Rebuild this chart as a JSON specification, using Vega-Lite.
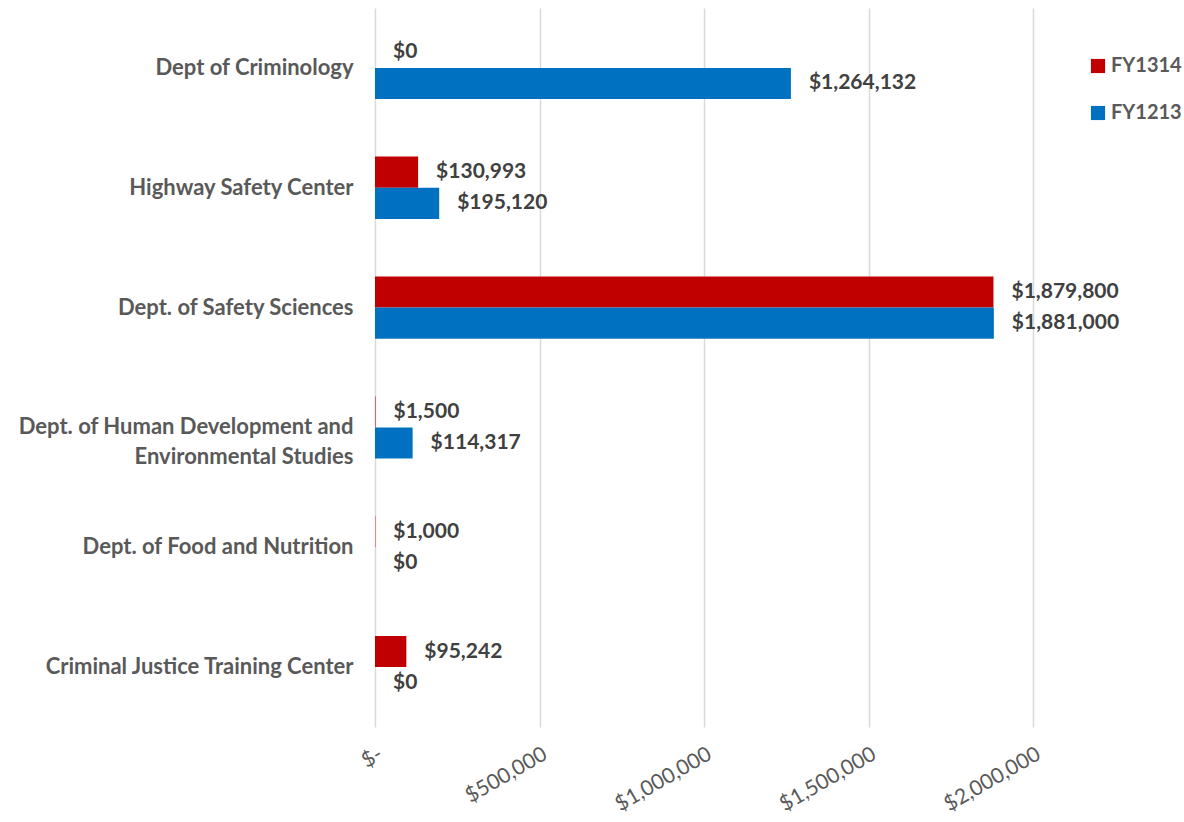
{
  "$schema": "https://vega.github.io/schema/vega-lite/v6.json",
  "width": 658,
  "height": 719,
  "autosize": {"type": "none"},
  "padding": {"left": 375, "top": 8, "right": 151, "bottom": 95},
  "background": "white",
  "config": {"view": {"stroke": null}, "font": "Lato"},
  "data": {
    "values": [
      {"dept": "Dept of Criminology", "series": "FY1314", "amount": 0},
      {"dept": "Dept of Criminology", "series": "FY1213", "amount": 1264132},
      {"dept": "Highway Safety Center", "series": "FY1314", "amount": 130993},
      {"dept": "Highway Safety Center", "series": "FY1213", "amount": 195120},
      {"dept": "Dept. of Safety Sciences", "series": "FY1314", "amount": 1879800},
      {"dept": "Dept. of Safety Sciences", "series": "FY1213", "amount": 1881000},
      {"dept": "Dept. of Human Development and Environmental Studies", "series": "FY1314", "amount": 1500},
      {"dept": "Dept. of Human Development and Environmental Studies", "series": "FY1213", "amount": 114317},
      {"dept": "Dept. of Food and Nutrition", "series": "FY1314", "amount": 1000},
      {"dept": "Dept. of Food and Nutrition", "series": "FY1213", "amount": 0},
      {"dept": "Criminal Justice Training Center", "series": "FY1314", "amount": 95242},
      {"dept": "Criminal Justice Training Center", "series": "FY1213", "amount": 0}
    ]
  },
  "encoding": {
    "y": {
      "field": "dept",
      "type": "nominal",
      "sort": ["Dept of Criminology", "Highway Safety Center", "Dept. of Safety Sciences", "Dept. of Human Development and Environmental Studies", "Dept. of Food and Nutrition", "Criminal Justice Training Center"],
      "scale": {"paddingInner": 0.48, "paddingOuter": 0.24},
      "axis": {
        "title": null,
        "domain": false,
        "ticks": false,
        "labelPadding": 22,
        "labelFont": "Lato",
        "labelFontSize": 22,
        "labelFontWeight": "bold",
        "labelColor": "#595959",
        "labelLimit": 400,
        "labelLineHeight": 30,
        "labelAlign": "right",
        "labelExpr": "datum.value == 'Dept. of Human Development and Environmental Studies' ? ['Dept. of Human Development and', 'Environmental Studies'] : datum.value"
      }
    },
    "yOffset": {"field": "series", "type": "nominal", "sort": ["FY1314", "FY1213"]},
    "x": {
      "field": "amount",
      "type": "quantitative",
      "scale": {"domain": [0, 2000000], "nice": false},
      "axis": {
        "title": null,
        "values": [0, 500000, 1000000, 1500000, 2000000],
        "domain": false,
        "ticks": false,
        "grid": true,
        "gridColor": "#d9d9d9",
        "gridWidth": 1.5,
        "labelAngle": -30,
        "labelPadding": 16,
        "labelFont": "Lato",
        "labelFontSize": 21,
        "labelColor": "#595959",
        "labelExpr": "datum.value == 0 ? '$-' : format(datum.value, '$,.0f')"
      }
    }
  },
  "layer": [
    {
      "mark": {"type": "bar"},
      "encoding": {
        "color": {
          "field": "series",
          "type": "nominal",
          "sort": ["FY1314", "FY1213"],
          "scale": {"domain": ["FY1314", "FY1213"], "range": ["#C00000", "#0070C0"]},
          "legend": {
            "title": null,
            "orient": "none",
            "legendX": 713,
            "legendY": 48,
            "symbolType": "square",
            "symbolSize": 200,
            "symbolStrokeWidth": 0,
            "rowPadding": 27,
            "labelOffset": 3,
            "labelFont": "Lato",
            "labelFontSize": 20,
            "labelFontWeight": "bold",
            "labelColor": "#595959"
          }
        }
      }
    },
    {
      "mark": {"type": "text", "align": "left", "baseline": "middle", "dx": 18, "font": "Lato", "fontSize": 21, "fontWeight": "bold", "color": "#404040"},
      "encoding": {
        "text": {"field": "amount", "type": "quantitative", "format": "$,.0f"}
      }
    }
  ]
}
